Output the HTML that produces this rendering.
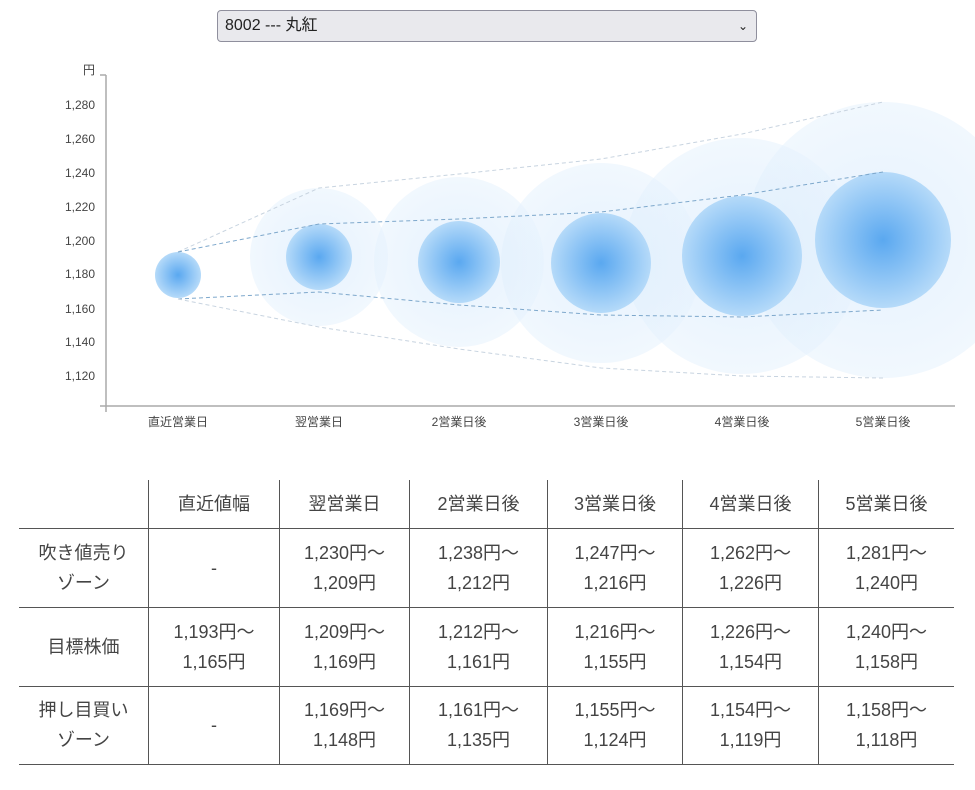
<!DOCTYPE html>
<html><head><meta charset="utf-8"><style>
body{margin:0;width:975px;height:790px;background:#fff;font-family:"Liberation Sans","Noto Sans CJK JP",sans-serif;position:relative;overflow:hidden}
.sel{position:absolute;left:217px;top:10px;width:540px;height:32px;border:1px solid #8f8f9d;border-radius:4px;background:#e9e9ed;font-size:16px;color:#222;line-height:30px;box-sizing:border-box;padding-left:7px}
.sel span{position:absolute;right:8px;top:0;font-size:12px}
table{position:absolute;left:19px;top:480px;border-collapse:collapse;font-size:18px;color:#444}
td{border:1px solid #555;text-align:center;line-height:30px;padding:0}
tr td:first-child{border-left:none}
tr td:last-child{border-right:none}
tr:first-child td{border-top:none}
</style></head><body>
<div class="sel">8002 --- 丸紅<span>&#8964;</span></div>
<svg width="975" height="460" style="position:absolute;left:0;top:0" font-family="Liberation Sans,Noto Sans CJK JP,sans-serif">
<defs>
<radialGradient id="gi"><stop offset="0" stop-color="#5aa8f0"/><stop offset="1" stop-color="#b5daf9"/></radialGradient>
<radialGradient id="go"><stop offset="0" stop-color="#d3e8fc" stop-opacity="0.6"/><stop offset="1" stop-color="#e6f2fd" stop-opacity="0.55"/></radialGradient>
</defs>
<g fill="url(#go)">
<circle cx="883" cy="240" r="138"/><circle cx="742" cy="256" r="118"/><circle cx="601" cy="263" r="100"/><circle cx="459" cy="262" r="85"/><circle cx="319" cy="257" r="69"/>
</g>
<g fill="url(#gi)">
<circle cx="178" cy="275" r="23"/><circle cx="319" cy="257" r="33"/><circle cx="459" cy="262" r="41"/><circle cx="601" cy="263" r="50"/><circle cx="742" cy="256" r="60"/><circle cx="883" cy="240" r="68"/>
</g>
<g fill="none" stroke-dasharray="4,3">
<polyline stroke="#c8d4e0" points="178,252 319,188 459,174 601,159 742,134 883,102"/>
<polyline stroke="#7ea8cc" points="178,252 319,224 459,219 601,212 742,195 883,172"/>
<polyline stroke="#7ea8cc" points="178,299 319,292 459,305 601,315 742,317 883,310"/>
<polyline stroke="#c8d4e0" points="178,299 319,327 459,349 601,368 742,376 883,378"/>
</g>
<g stroke="#aaa" stroke-width="1.5"><line x1="106" y1="75" x2="106" y2="412"/><line x1="100" y1="75" x2="106" y2="75"/><line x1="100" y1="406" x2="955" y2="406"/></g>
<g font-size="12" fill="#444" text-anchor="end">
<text x="95" y="74">円</text>
<text x="95" y="109">1,280</text><text x="95" y="143">1,260</text><text x="95" y="177">1,240</text><text x="95" y="211">1,220</text><text x="95" y="245">1,200</text><text x="95" y="278">1,180</text><text x="95" y="313">1,160</text><text x="95" y="346">1,140</text><text x="95" y="380">1,120</text>
</g>
<g font-size="12" fill="#444" text-anchor="middle">
<text x="178" y="426">直近営業日</text><text x="319" y="426">翌営業日</text><text x="459" y="426">2営業日後</text><text x="601" y="426">3営業日後</text><text x="742" y="426">4営業日後</text><text x="883" y="426">5営業日後</text>
</g>
</svg>
<table>
<tr style="height:48px"><td style="width:129px"></td><td style="width:130px">直近値幅</td><td style="width:129px">翌営業日</td><td style="width:137px">2営業日後</td><td style="width:134px">3営業日後</td><td style="width:135px">4営業日後</td><td style="width:135px">5営業日後</td></tr>
<tr style="height:79px"><td>吹き値売り<br>ゾーン</td><td>-</td><td>1,230円～<br>1,209円</td><td>1,238円～<br>1,212円</td><td>1,247円～<br>1,216円</td><td>1,262円～<br>1,226円</td><td>1,281円～<br>1,240円</td></tr>
<tr style="height:79px"><td>目標株価</td><td>1,193円～<br>1,165円</td><td>1,209円～<br>1,169円</td><td>1,212円～<br>1,161円</td><td>1,216円～<br>1,155円</td><td>1,226円～<br>1,154円</td><td>1,240円～<br>1,158円</td></tr>
<tr style="height:78px"><td>押し目買い<br>ゾーン</td><td>-</td><td>1,169円～<br>1,148円</td><td>1,161円～<br>1,135円</td><td>1,155円～<br>1,124円</td><td>1,154円～<br>1,119円</td><td>1,158円～<br>1,118円</td></tr>
</table>
</body></html>
